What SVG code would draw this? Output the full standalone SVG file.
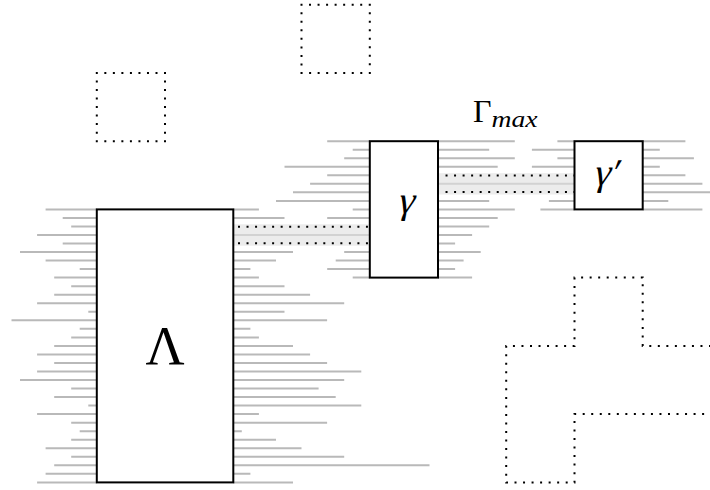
<svg xmlns="http://www.w3.org/2000/svg" width="710" height="490" viewBox="0 0 710 490">
<defs>
<style>
.g{fill:none;stroke:#b9b9b9;stroke-width:2}
.box{fill:#fff;stroke:#000;stroke-width:2}
.dot{fill:none;stroke:#000;stroke-width:2;stroke-dasharray:2 6.53;stroke-dashoffset:1}
.band{fill:#ececec}
.mid{stroke:#d2d2d2;stroke-width:2}
.t{font-family:"Liberation Serif","DejaVu Serif",serif;fill:#000}
</style>
</defs>
<rect width="710" height="490" fill="#fff"/>
<g id="shapes">
<path class="dot" d="M96.8 72.9H165V141.2H96.8Z"/>
<path class="dot" d="M301.5 4.7H369.8V72.9H301.5Z"/>
<path class="dot" d="M710 345.9H642.7V277.6H574.5V345.9H506.2V482.4H574.5V414.1H710"/>
</g>
<g id="connectors">
<rect class="band" x="233.3" y="224.3" width="136.5" height="21.4"/>
<path class="mid" d="M233.3 235H369.8"/>
<path class="dot" d="M238 226.8H369.8M238 243.3H369.8" style="stroke-dashoffset:0"/>
<rect class="band" x="438" y="173.2" width="136.5" height="21.3"/>
<path class="mid" d="M438 183.8H574.5"/>
<path class="dot" d="M437 175.6H574.5M437 192H574.5" style="stroke-dashoffset:0"/>
</g>
<g id="Lambda">
<path class="g" d="M45.6 209.4H96.8M62.7 217.9H96.8M71.2 226.5H96.8M37.1 235H96.8M62.7 243.5H96.8M20 252.1H96.8M45.6 260.6H96.8M79.7 269.1H96.8M54.2 277.6H96.8M71.2 286.2H96.8M54.2 294.7H96.8M37.1 303.2H96.8M88.3 311.8H96.8M11.5 320.3H96.8M79.7 328.8H96.8M71.2 337.4H96.8M54.2 345.9H96.8M37.1 354.4H96.8M54.2 362.9H96.8M37.1 371.5H96.8M20 380H96.8M71.2 388.5H96.8M54.2 397.1H96.8M88.3 405.6H96.8M37.1 414.1H96.8M71.2 422.7H96.8M79.7 431.2H96.8M71.2 439.7H96.8M45.6 448.2H96.8M71.2 456.8H96.8M54.2 465.3H96.8M45.6 473.8H96.8M37.1 482.4H96.8"/>
<path class="g" d="M233.3 209.4H258.9M233.3 217.9H284.5M233.3 252.1H293M233.3 260.6H276M233.3 269.1H250.4M233.3 277.6H258.9M233.3 286.2H284.5M233.3 294.7H310.1M233.3 303.2H344.2M233.3 311.8H284.5M233.3 320.3H327.1M233.3 328.8H250.4M233.3 337.4H258.9M233.3 345.9H293M233.3 354.4H310.1M233.3 362.9H327.1M233.3 371.5H361.3M233.3 380H344.2M233.3 388.5H318.6M233.3 397.1H335.7M233.3 405.6H361.3M233.3 414.1H258.9M233.3 422.7H327.1M233.3 431.2H241.8M233.3 439.7H276M233.3 448.2H301.5M233.3 456.8H344.2M233.3 465.3H429.5M233.3 473.8H250.4M233.3 482.4H293"/>
<rect class="box" x="96.8" y="209.4" width="136.5" height="273"/>
<text class="t" x="165" y="364" font-size="54" text-anchor="middle">Λ</text>
</g>
<g id="gamma">
<path class="g" d="M327.2 141.2H369.8M352.7 149.7H369.8M344.2 158.2H369.8M284.5 166.8H369.8M327.2 175.3H369.8M310.1 183.8H369.8M293 192.3H369.8M276 200.9H369.8M352.7 209.4H369.8M327.2 217.9H369.8M344.2 252.1H369.8M335.7 260.6H369.8M327.2 269.1H369.8M352.7 277.6H369.8"/>
<path class="g" d="M438 141.2H514.8M438 149.7H489.2M438 158.2H514.8M438 166.8H497.7M438 200.9H489.2M438 209.4H514.8M438 217.9H497.7M438 226.5H489.2M438 235H472.1M438 243.5H455.1M438 252.1H480.7M438 260.6H463.6M438 269.1H455.1M438 277.6H472.1"/>
<rect class="box" x="369.8" y="141.2" width="68.2" height="136.4"/>
<text class="t" font-size="38" text-anchor="middle" transform="translate(405,213) skewX(-14)">γ</text>
</g>
<g id="gamma-prime">
<path class="g" d="M557.4 141.2H574.5M531.9 149.7H574.5M557.4 158.2H574.5M531.9 166.8H574.5M548.9 200.9H574.5M540.4 209.4H574.5"/>
<path class="g" d="M642.7 141.2H685.4M642.7 149.7H659.8M642.7 158.2H693.9M642.7 166.8H659.8M642.7 175.3H685.4M642.7 183.8H702.4M642.7 192.3H710M642.7 200.9H668.3M642.7 209.4H702.4"/>
<rect class="box" x="574.5" y="141.2" width="68.2" height="68.2"/>
<text class="t" font-size="38" text-anchor="middle" transform="translate(605,185) skewX(-14)">γ′</text>
</g>
<g id="Gamma-max">
<text class="t" x="473" y="122" font-size="32">Γ<tspan font-size="24" font-style="italic" dy="5" textLength="46" lengthAdjust="spacingAndGlyphs">max</tspan></text>
</g>
</svg>
